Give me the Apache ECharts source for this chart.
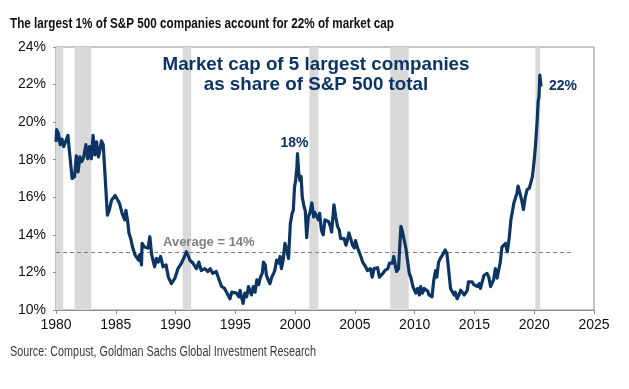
<!DOCTYPE html>
<html>
<head>
<meta charset="utf-8">
<script src="https://cdn.jsdelivr.net/npm/echarts@6/dist/echarts.min.js"></script>
<style>
html,body{margin:0;padding:0;background:#fff;}
#chart{width:629px;height:389px;}
</style>
</head>
<body>
<div id="chart"></div>
<script>
// ---- Data ----
const dates = [
1980.0,1980.05,1980.2,1980.35,1980.5,1980.65,1981.0,1981.1,1981.35,1981.45,1981.55,1981.7,1981.85,1982.0,1982.15,1982.3,1982.5,1982.65,1982.8,1982.95,
1983.1,1983.25,1983.4,1983.55,1983.7,1983.8,1983.95,1984.05,1984.3,1984.45,1984.65,1984.95,1985.1,1985.3,1985.55,1985.75,1985.85,1986.0,1986.1,1986.25,
1986.4,1986.5,1986.6,1986.75,1986.9,1987.0,1987.15,1987.2,1987.4,1987.55,1987.7,1987.85,1988.0,1988.1,1988.25,1988.4,1988.55,1988.75,1988.95,1989.2,
1989.4,1989.65,1989.95,1990.2,1990.5,1990.75,1990.9,1991.05,1991.2,1991.45,1991.75,1991.95,1992.15,1992.45,1992.7,1992.9,1993.1,1993.4,1993.65,1993.85,
1994.1,1994.25,1994.55,1994.7,1994.85,1995.1,1995.3,1995.4,1995.55,1995.65,1995.8,1995.95,1996.1,1996.35,1996.5,1996.65,1996.8,1996.95,1997.1,1997.25,
1997.35,1997.5,1997.6,1997.75,1997.9,1998.05,1998.2,1998.3,1998.45,1998.6,1998.75,1998.85,1999.0,1999.15,1999.3,1999.45,1999.6,1999.75,1999.85,1999.95,
2000.05,2000.1,2000.15,2000.2,2000.3,2000.4,2000.5,2000.6,2000.75,2000.85,2000.97,2001.1,2001.25,2001.4,2001.55,2001.65,2001.8,2001.95,2002.05,2002.2,
2002.35,2002.5,2002.65,2002.8,2002.95,2003.05,2003.25,2003.4,2003.55,2003.7,2003.8,2003.95,2004.1,2004.25,2004.35,2004.5,2004.65,2004.8,2004.95,2005.05,
2005.2,2005.35,2005.5,2005.65,2005.75,2005.9,2006.05,2006.15,2006.3,2006.45,2006.6,2006.75,2006.9,2007.05,2007.2,2007.35,2007.5,2007.6,2007.75,2007.9,
2008.05,2008.15,2008.25,2008.4,2008.5,2008.65,2008.75,2008.85,2008.95,2009.1,2009.25,2009.4,2009.55,2009.7,2009.85,2010.0,2010.1,2010.25,2010.4,2010.5,
2010.65,2010.8,2010.95,2011.1,2011.2,2011.45,2011.6,2011.75,2011.85,2012.0,2012.15,2012.3,2012.4,2012.55,2012.7,2012.85,2013.0,2013.15,2013.3,2013.4,
2013.55,2013.7,2013.85,2014.0,2014.15,2014.3,2014.4,2014.5,2014.65,2014.8,2014.95,2015.1,2015.25,2015.4,2015.5,2015.65,2015.8,2015.95,2016.05,2016.2,
2016.35,2016.5,2016.6,2016.75,2016.9,2017.0,2017.15,2017.3,2017.45,2017.6,2017.75,2017.9,2018.05,2018.15,2018.3,2018.4,2018.55,2018.65,2018.8,2018.95,
2019.1,2019.25,2019.4,2019.6,2019.75,2019.85,2019.97,2020.1,2020.25,2020.33,2020.4,2020.47,2020.52,2020.57
];
const shares = [
18.95,19.6,19.4,18.8,19.1,18.7,19.3,18.6,17.0,16.9,17.1,18.2,17.35,18.15,17.9,18.1,18.8,18.05,18.7,18.05,
19.3,18.25,18.95,18.15,18.6,19.0,18.8,18.9,15.05,15.3,15.85,16.1,16.15,15.7,15.1,14.8,15.3,14.7,14.1,13.8,
13.35,13.45,12.95,12.85,12.65,12.95,12.4,13.55,13.35,13.45,13.3,13.9,12.95,13.0,12.3,12.75,12.55,12.85,12.3,12.4,
11.75,11.4,11.7,12.2,12.5,12.85,13.1,12.9,12.65,12.5,12.2,12.55,12.1,12.2,12.05,12.2,11.95,12.05,11.6,11.25,
11.15,11.05,10.6,10.95,11.05,10.9,10.7,11.05,10.6,10.35,10.9,10.7,11.25,10.8,11.25,10.95,11.6,11.35,11.75,11.95,
12.55,12.4,11.85,11.6,11.4,11.75,11.95,12.1,12.65,12.5,12.85,12.2,12.65,13.55,13.2,12.75,14.6,15.15,15.3,16.55,
16.9,17.3,17.6,18.33,17.3,16.9,17.1,16.0,15.5,15.3,13.85,14.95,15.2,15.7,14.95,15.2,15.3,14.8,15.15,14.25,
14.0,14.8,14.9,14.7,14.45,14.15,15.6,14.95,14.45,14.25,13.8,13.7,13.8,13.45,13.65,14.1,13.8,13.45,13.3,13.7,
13.35,13.1,12.85,12.55,12.55,12.3,12.1,12.05,12.2,11.75,12.2,12.3,12.25,11.75,11.85,11.95,12.1,12.05,12.2,12.5,
12.55,12.5,12.85,12.3,12.05,12.2,13.35,14.45,14.25,14.35,13.35,12.65,11.95,11.7,11.25,11.25,10.9,11.15,10.8,11.25,
10.9,11.15,11.25,11.0,10.8,10.7,11.6,12.1,11.75,12.55,12.75,12.85,13.0,13.2,13.0,12.1,11.15,11.05,10.8,10.95,
10.6,10.8,11.05,10.95,10.8,10.9,11.05,11.5,11.6,11.5,11.35,11.35,11.25,11.4,11.15,11.5,11.85,11.85,11.95,11.75,
11.25,11.25,11.6,12.2,11.7,12.05,12.5,13.35,13.3,13.55,13.1,13.8,14.8,14.9,15.7,15.7,16.2,16.6,16.55,15.85,
15.35,16.0,16.4,16.5,16.55,17.1,17.8,18.7,20.1,21.1,21.35,22.5,22.4,21.9
];
const recessionStarts = [1980.0, 1981.55, 1990.6, 2001.2, 2007.95, 2020.1];
const recessionEnds   = [1980.6, 1982.95, 1991.3, 2001.95, 2009.5, 2020.5];
const averageValue = 13.05;
const averageEnd = 2023.2;
const xTicks = [1980,1985,1990,1995,2000,2005,2010,2015,2020,2025];
const yTicks = [10,12,14,16,18,20,22,24];

const titleText = 'The largest 1% of S&P 500 companies account for 22% of market cap';
const sourceText = 'Source: Compust, Goldman Sachs Global Investment Research';
const noteLines = ['Market cap of 5 largest companies', 'as share of S&P 500 total'];
const peakLabel2000 = '18%';
const peakLabel2020 = '22%';
const averageLabel = 'Average = 14%';

// ---- helpers ----
const cnv = document.createElement('canvas').getContext('2d');
const ARIAL = '"Liberation Sans",Arial,sans-serif';
function measure(text, font) { cnv.font = font; return cnv.measureText(text).width; }
const NAVY = '#0c3563';
const titleFont = 'bold 15.5px ' + ARIAL;
const titleScale = 384 / measure(titleText, titleFont);
const sourceFont = 'normal 14px ' + ARIAL;
const sourceScale = 306 / measure(sourceText, sourceFont);
const noteSize = 18.5;
const noteFont = 'bold ' + noteSize + 'px ' + ARIAL;
const noteScale = 307 / measure(noteLines[0], noteFont);

const lineData = dates.map((d, i) => [d, shares[i]]);
const areas = recessionStarts.map((s, i) => [{xAxis: s}, {xAxis: recessionEnds[i]}]);

const chart = echarts.init(document.getElementById('chart'), null, {renderer: 'canvas'});
chart.setOption({
  animation: false,
  backgroundColor: '#fff',
  grid: {left: 56, right: 35, top: 47, bottom: 79, show: true, borderColor: '#8c8c8c', borderWidth: 1},
  xAxis: {
    type: 'value', min: xTicks[0], max: xTicks[xTicks.length - 1], interval: 5,
    axisLine: {lineStyle: {color: '#8c8c8c', width: 1}},
    axisTick: {show: true, length: 4, lineStyle: {color: '#8c8c8c'}},
    axisLabel: {color: '#111', fontFamily: ARIAL, fontSize: 14, margin: 8, formatter: v => String(v)},
    splitLine: {show: false}
  },
  yAxis: {
    type: 'value', min: yTicks[0], max: yTicks[yTicks.length - 1], interval: 2,
    axisLine: {show: true, lineStyle: {color: '#8c8c8c', width: 1}},
    axisTick: {show: true, length: 3, lineStyle: {color: '#8c8c8c'}},
    axisLabel: {color: '#111', fontFamily: ARIAL, fontSize: 14, margin: 10, formatter: '{value}%'},
    splitLine: {show: false}
  },
  series: [
    {
      type: 'line', data: lineData, showSymbol: false, symbol: 'none',
      lineStyle: {color: NAVY, width: 3.2, join: 'round'},
      z: 5,
      markArea: {silent: true, itemStyle: {color: '#d9d9d9'}, data: areas, z: 1},
      markLine: {
        silent: true, symbol: 'none', label: {show: false},
        lineStyle: {color: '#7f7f7f', type: [4, 3], width: 1},
        data: [[{coord: [xTicks[0], averageValue]}, {coord: [averageEnd, averageValue]}]]
      }
    }
  ],
  graphic: [
    {type: 'text', z: 100, x: 10, y: 24, scaleX: titleScale, originX: 0, style: {text: titleText, font: titleFont, fill: '#111', align: 'left', verticalAlign: 'middle'}},
    {type: 'text', z: 100, x: 10, y: 352.5, scaleX: sourceScale, originX: 0, style: {text: sourceText, font: sourceFont, fill: '#3a3a3a', align: 'left', verticalAlign: 'middle'}},
    {type: 'text', z: 100, x: 316, y: 64.5, scaleX: noteScale, style: {text: noteLines[0], font: noteFont, fill: NAVY, align: 'center', verticalAlign: 'middle'}},
    {type: 'text', z: 100, x: 316, y: 84.5, scaleX: noteScale, style: {text: noteLines[1], font: noteFont, fill: NAVY, align: 'center', verticalAlign: 'middle'}},
    {type: 'text', z: 100, x: 294.5, y: 143, style: {text: peakLabel2000, font: 'bold 14px ' + ARIAL, fill: NAVY, align: 'center', verticalAlign: 'middle'}},
    {type: 'text', z: 100, x: 563, y: 86.5, style: {text: peakLabel2020, font: 'bold 14px ' + ARIAL, fill: NAVY, align: 'center', verticalAlign: 'middle'}},
    {type: 'text', z: 100, x: 163, y: 242.5, style: {text: averageLabel, font: 'bold 13px ' + ARIAL, fill: '#7f7f7f', align: 'left', verticalAlign: 'middle'}}
  ]
});
</script>
</body>
</html>
